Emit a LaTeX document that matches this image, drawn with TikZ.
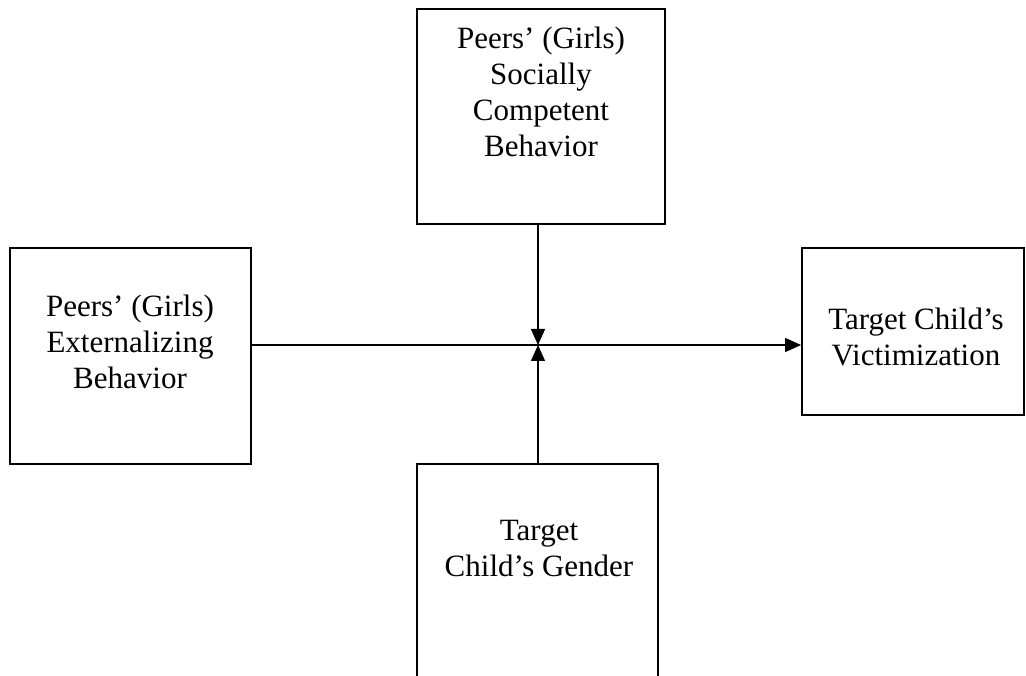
\documentclass[tikz,border=0pt]{standalone}
\usepackage{fontspec}
\setmainfont{Liberation Serif}
\usetikzlibrary{arrows.meta}
\begin{document}
\begin{tikzpicture}[x=1pt,y=-1pt,
  box/.style={draw, line width=1.8pt, inner sep=0pt},
  lbl/.style={anchor=north, inner sep=0pt, align=center,
    font=\fontsize{31}{36}\selectfont},
  link/.style={line width=1.4pt, -{Triangle[length=16pt,width=14pt]}}]
  \useasboundingbox (0,0) rectangle (1026,676);
  \clip (0,0) rectangle (1026,676);
  \fill[white] (0,0) rectangle (1026,676);

  % the four variable boxes
  \node[box, minimum width=248pt, minimum height=215pt] (top) at (541,116.5) {};
  \node[box, minimum width=241pt, minimum height=216pt] (left) at (130.5,356) {};
  \node[box, minimum width=222pt, minimum height=167pt] (right) at (913,331.5) {};
  \node[box, minimum width=241pt, minimum height=230pt] (bottom) at (537.5,579) {};

  % box texts
  \node[lbl] (topText) at (541,27) {Peers’ (Girls)\\Socially\\Competent\\Behavior};
  \node[lbl] (leftText) at (130,295) {Peers’ (Girls)\\Externalizing\\Behavior};
  \node[lbl] (rightText) at (916,308) {Target Child’s\\Victimization};
  \node[lbl] (bottomText) at (539,520) {Target\\Child’s Gender};

  % point where the moderating paths meet the main path
  \coordinate (J) at (538,345);

  \draw[link] (J -| left.east) -- (J -| right.west);
  \draw[link] (J |- top.south) -- (J);
  \draw[link] (J |- bottom.north) -- (J);
\end{tikzpicture}
\end{document}
